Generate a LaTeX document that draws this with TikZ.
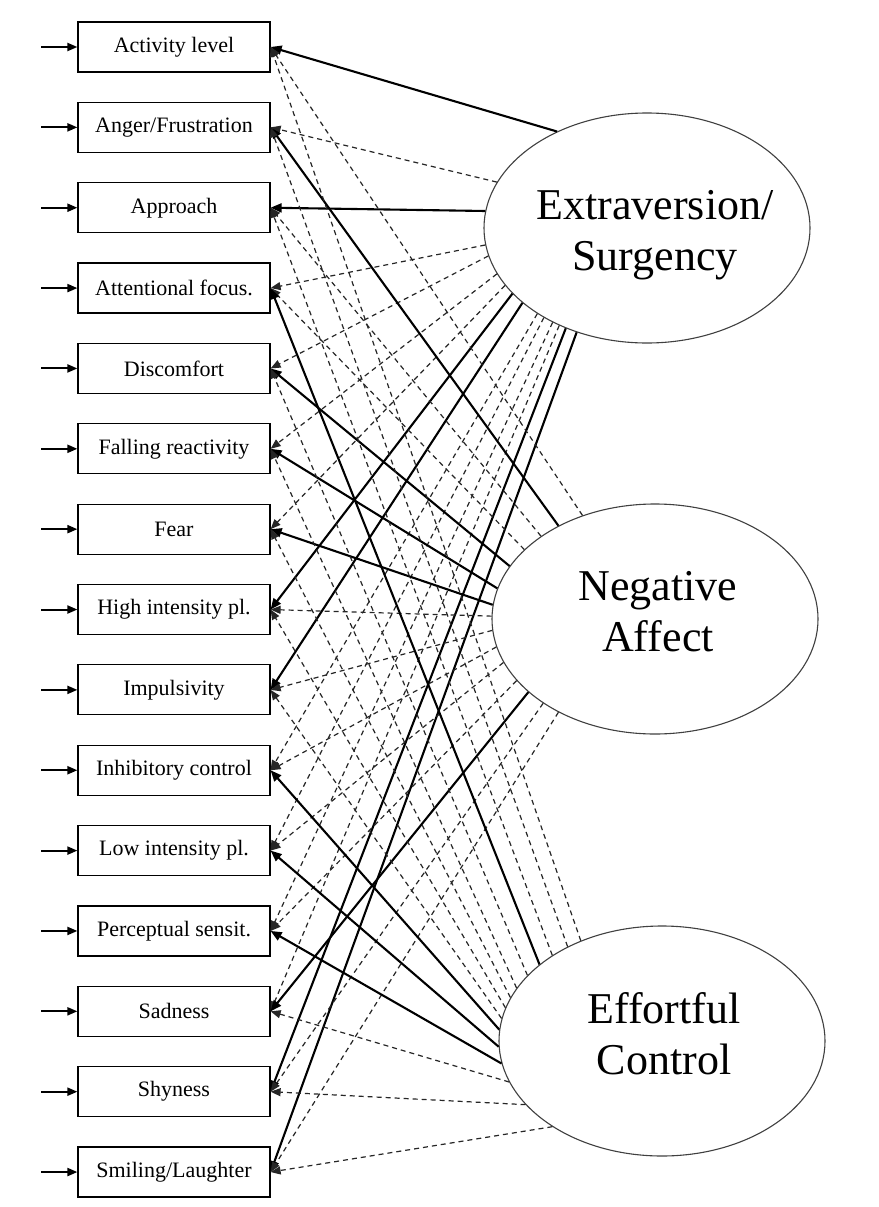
\documentclass[tikz,border=0pt]{standalone}
\usepackage{fontspec}
\setmainfont{Liberation Serif}
\usetikzlibrary{arrows.meta,shapes.geometric}
\begin{document}
\begin{tikzpicture}[x=1pt,y=-1pt,
  box/.style={draw=black, line width=1.2pt, minimum width=192pt, minimum height=50pt, inner sep=0pt, font=\fontsize{22}{26}\selectfont},
  factor/.style={draw=black!75, line width=1.1pt, ellipse, minimum width=326pt, minimum height=230pt, inner sep=0pt},
  factortext/.style={align=center, font=\fontsize{44}{51}\selectfont, inner sep=0pt},
  solidline/.style={line width=2.1pt, -{Triangle[length=11pt,width=9pt]}},
  dashline/.style={line width=1.2pt, black!85, dash pattern=on 5pt off 4pt, -{Triangle[length=10pt,width=8pt]}},
  inarrow/.style={line width=2pt, -{Triangle[length=10pt,width=8pt]}}]
\useasboundingbox[fill=white] (0,0) rectangle (878,1207);

\foreach \i/\t in {1/Activity level, 2/{Anger/Frustration}, 3/Approach, 4/Attentional focus., 5/Discomfort, 6/Falling reactivity, 7/Fear, 8/High intensity pl., 9/Impulsivity, 10/Inhibitory control, 11/Low intensity pl., 12/Perceptual sensit., 13/Sadness, 14/Shyness, 15/{Smiling/Laughter}} {
  \pgfmathsetmacro\yy{47+80.36*(\i-1)}
  \node[box] (b\i) at (174,\yy) {\t};
  \coordinate (s\i) at (41,\yy);
  \draw[inarrow] (s\i) -- (b\i.west);
}

\node[factor] (E) at (647,228) {};
\node[factortext] (Et) at (655,235) {Extraversion/\\Surgency};
\node[factor] (N) at (655,619) {};
\node[factortext] (Nt) at (658,612) {Negative\\Affect};
\node[factor] (C) at (662,1041) {};
\node[factortext] (Ct) at (664,1034) {Effortful\\Control};

\foreach \f/\a/\i/\s in {
  E/133/1/solidline, E/163/2/dashline, E/174/3/solidline, E/186/4/dashline, E/190/5/dashline,
  E/197/6/dashline, E/202/7/dashline, E/206/8/solidline, E/211/9/solidline, E/218/10/dashline,
  E/221/11/dashline, E/225/12/dashline, E/228/13/dashline, E/231/14/solidline, E/236/15/solidline,
  N/125/1/dashline, N/136/2/solidline, N/144/3/dashline, N/152/4/dashline, N/160/5/solidline,
  N/169/6/solidline, N/175/7/solidline, N/179/8/dashline, N/184/9/dashline, N/190/10/dashline,
  N/196/11/dashline, N/204/12/dashline, N/210/13/solidline, N/217/14/dashline, N/224/15/dashline,
  C/129/1/dashline, C/135/2/dashline, C/142/3/dashline, C/148/4/solidline, C/154/5/dashline,
  C/160/6/dashline, C/164/7/dashline, C/168/8/dashline, C/172/9/dashline, C/176/10/solidline,
  C/182/11/solidline, C/188/12/solidline, C/195/13/dashline, C/205/14/dashline, C/218/15/dashline}
  \draw[\s] (\f.\a) -- (b\i.east);
\end{tikzpicture}
\end{document}
